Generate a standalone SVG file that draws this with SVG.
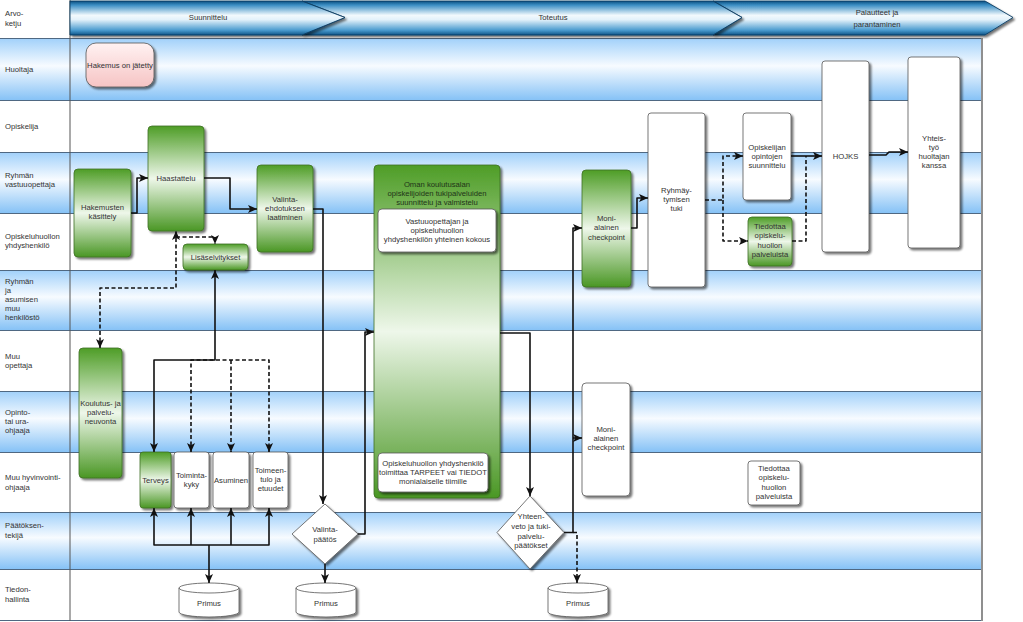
<svg xmlns="http://www.w3.org/2000/svg" width="1023" height="622" viewBox="0 0 1023 622">
<defs>
<style>
.t{font-family:"Liberation Sans",Arial,sans-serif;font-size:7.7px;fill:#333;text-anchor:middle}
.l{font-family:"Liberation Sans",Arial,sans-serif;font-size:7.7px;fill:#333}
.ttl{fill:#1f3418}
.lb{fill:url(#lane)}
.lw{fill:#ffffff}
.ln{stroke:#4f6882;stroke-width:1;fill:none}
.g{fill:url(#green);stroke:#3d6f25;stroke-width:0.8;filter:url(#sh)}
.w{fill:#ffffff;stroke:#555;stroke-width:0.8;filter:url(#sh)}
.p{fill:url(#pink);stroke:#555;stroke-width:0.8;filter:url(#sh)}
.c{fill:none;stroke:#111;stroke-width:1.6;stroke-linejoin:round}
.d{stroke-dasharray:4,2.5}
.a{marker-end:url(#arr)}
.b{marker-start:url(#arr);marker-end:url(#arr)}
.hd{fill:url(#hdr);stroke:#0c3c62;stroke-width:0.9;filter:url(#sh)}
</style>
<linearGradient id="lane" x1="0" y1="0" x2="0" y2="1">
<stop offset="0" stop-color="#a0d0fa"/>
<stop offset="0.45" stop-color="#f7fbff"/>
<stop offset="1" stop-color="#86c2f6"/>
</linearGradient>
<linearGradient id="hdr" x1="0" y1="0" x2="0" y2="1">
<stop offset="0" stop-color="#0b4f80"/>
<stop offset="0.12" stop-color="#3b8ec4"/>
<stop offset="0.42" stop-color="#f2f9fd"/>
<stop offset="0.55" stop-color="#e3f1fa"/>
<stop offset="0.86" stop-color="#4a9bcf"/>
<stop offset="1" stop-color="#0d5688"/>
</linearGradient>
<linearGradient id="green" x1="0" y1="0" x2="0" y2="1">
<stop offset="0" stop-color="#4e9d26"/>
<stop offset="0.5" stop-color="#eef7ea"/>
<stop offset="1" stop-color="#4a9724"/>
</linearGradient>
<linearGradient id="pink" x1="0" y1="0" x2="0" y2="1">
<stop offset="0" stop-color="#fff2f2"/>
<stop offset="1" stop-color="#f6c4c4"/>
</linearGradient>
<filter id="sh" x="-20%" y="-20%" width="150%" height="150%">
<feGaussianBlur in="SourceAlpha" stdDeviation="1"/>
<feOffset dx="2" dy="2"/>
<feComponentTransfer><feFuncA type="linear" slope="0.55"/></feComponentTransfer>
<feMerge><feMergeNode/><feMergeNode in="SourceGraphic"/></feMerge>
</filter>
<marker id="arr" markerUnits="userSpaceOnUse" markerWidth="9" markerHeight="8" viewBox="0 0 9 8" refX="9" refY="4" orient="auto-start-reverse">
<path d="M0,0 L9,4 L0,8 L2.2,4 Z" fill="#111"/>
</marker>
</defs>

<rect x="0" y="0" width="1023" height="622" fill="#ffffff"/>

<g id="lanes">
<rect class="lb" x="0" y="38" width="982" height="62"/>
<rect class="lw" x="0" y="100" width="982" height="52"/>
<rect class="lb" x="0" y="152" width="982" height="61"/>
<rect class="lw" x="0" y="213" width="982" height="57"/>
<rect class="lb" x="0" y="270" width="982" height="60"/>
<rect class="lw" x="0" y="330" width="982" height="61"/>
<rect class="lb" x="0" y="391" width="982" height="61"/>
<rect class="lw" x="0" y="452" width="982" height="60"/>
<rect class="lb" x="0" y="512" width="982" height="57"/>
<rect class="lw" x="0" y="569" width="982" height="51"/>
<path class="ln" d="M0,38.5H982M0,100.5H982M0,152.5H982M0,213.5H982M0,270.5H982M0,330.5H982M0,391.5H982M0,452.5H982M0,512.5H982M0,569.5H982M0,620.5H982"/>
<path d="M70,0V621" stroke="#555" stroke-width="1"/>
<path d="M982,38V621" stroke="#8f8f8f" stroke-width="2"/>
<text class="l" x="5" y="16">Arvo-</text><text class="l" x="5" y="26">ketju</text>
<text class="l" x="5" y="72">Huoltaja</text>
<text class="l" x="5" y="129">Opiskelija</text>
<text class="l" x="5" y="178">Ryhmän</text><text class="l" x="5" y="187">vastuuopettaja</text>
<text class="l" x="5" y="239">Opiskeluhuollon</text><text class="l" x="5" y="248">yhdyshenkilö</text>
<text class="l" x="5" y="284">Ryhmän</text><text class="l" x="5" y="293">ja</text><text class="l" x="5" y="302">asumisen</text><text class="l" x="5" y="311">muu</text><text class="l" x="5" y="320">henkilöstö</text>
<text class="l" x="5" y="359">Muu</text><text class="l" x="5" y="368">opettaja</text>
<text class="l" x="5" y="415">Opinto-</text><text class="l" x="5" y="424">tai ura-</text><text class="l" x="5" y="433">ohjaaja</text>
<text class="l" x="5" y="480">Muu hyvinvointi-</text><text class="l" x="5" y="490">ohjaaja</text>
<text class="l" x="5" y="528">Päätöksen-</text><text class="l" x="5" y="538">tekijä</text>
<text class="l" x="5" y="592">Tiedon-</text><text class="l" x="5" y="602">hallinta</text>
</g>

<g id="phase3">
<path class="hd" d="M713,1H985L1013,17.5L985,35H713L742,17.5Z"/>
<text class="t" x="877" y="15">Palautteet ja</text>
<text class="t" x="877" y="27">parantaminen</text>
</g>
<g id="phase2">
<path class="hd" d="M302,1H713L742,17.5L713,35H302L345,17.5Z"/>
<text class="t" x="553" y="20">Toteutus</text>
</g>
<g id="phase1">
<path class="hd" d="M70,1H302L345,17.5L302,35H70Z"/>
<text class="t" x="208" y="20">Suunnittelu</text>
</g>

<g id="n-hakemus-jatetty">
<rect class="p" x="86" y="43" width="68" height="44" rx="10"/>
<text class="t" x="120" y="68">Hakemus on jätetty</text>
</g>
<g id="n-hakemusten-kasittely">
<rect class="g" x="74" y="169" width="57" height="88" rx="4"/>
<text class="t" x="102.5" y="210">Hakemusten</text><text class="t" x="102.5" y="219">käsittely</text>
</g>
<g id="n-haastattelu">
<rect class="g" x="148" y="126" width="56" height="105" rx="4"/>
<text class="t" x="176" y="181">Haastattelu</text>
</g>
<g id="n-lisaselvitykset">
<rect class="g" x="183" y="244" width="65" height="26" rx="4"/>
<text class="t" x="215.5" y="260">Lisäselvitykset</text>
</g>
<g id="n-valintaehdotus">
<rect class="g" x="257" y="165" width="56" height="87" rx="4"/>
<text class="t" x="285" y="202">Valinta-</text><text class="t" x="285" y="211">ehdotuksen</text><text class="t" x="285" y="220">laatiminen</text>
</g>
<g id="n-koulutus">
<rect class="g" x="79" y="348" width="43" height="130" rx="4"/>
<text class="t" x="100.5" y="406">Koulutus- ja</text><text class="t" x="100.5" y="415">palvelu-</text><text class="t" x="100.5" y="424">neuvonta</text>
</g>
<g id="n-terveys">
<rect class="g" x="140" y="452" width="31" height="56" rx="3"/>
<text class="t" x="155.5" y="483">Terveys</text>
</g>
<g id="n-toimintakyky">
<rect class="w" x="174" y="452" width="35" height="56" rx="3"/>
<text class="t" x="191.5" y="478">Toiminta-</text><text class="t" x="191.5" y="487">kyky</text>
</g>
<g id="n-asuminen">
<rect class="w" x="213" y="452" width="36" height="56" rx="3"/>
<text class="t" x="231" y="483">Asuminen</text>
</g>
<g id="n-toimeentulo">
<rect class="w" x="253" y="452" width="35" height="56" rx="3"/>
<text class="t" x="270.5" y="473">Toimeen-</text><text class="t" x="270.5" y="482">tulo ja</text><text class="t" x="270.5" y="491">etuudet</text>
</g>
<g id="n-valintapaatos">
<path class="w" d="M325,504L358,534L325,564L292,534Z"/>
<text class="t" x="325" y="532">Valinta-</text><text class="t" x="325" y="542">päätös</text>
</g>
<g id="n-primus1">
<path class="w" d="M179,588A30,5 0 0 1 239,588V612A30,5 0 0 1 179,612Z"/>
<path d="M179,588A30,5 0 0 0 239,588" fill="none" stroke="#555" stroke-width="0.8"/>
<text class="t" x="209" y="606">Primus</text>
</g>
<g id="n-primus2">
<path class="w" d="M296,588A30,5 0 0 1 356,588V612A30,5 0 0 1 296,612Z"/>
<path d="M296,588A30,5 0 0 0 356,588" fill="none" stroke="#555" stroke-width="0.8"/>
<text class="t" x="326" y="606">Primus</text>
</g>
<g id="n-primus3">
<path class="w" d="M548,588A30,5 0 0 1 608,588V612A30,5 0 0 1 548,612Z"/>
<path d="M548,588A30,5 0 0 0 608,588" fill="none" stroke="#555" stroke-width="0.8"/>
<text class="t" x="578" y="606">Primus</text>
</g>
<g id="n-oman-koulutusalan">
<rect class="g" x="374" y="165" width="126" height="333" rx="4"/>
<text class="t ttl" x="437" y="187">Oman koulutusalan</text>
<text class="t ttl" x="437" y="196">opiskelijoiden tukipalveluiden</text>
<text class="t ttl" x="437" y="205">suunnittelu ja valmistelu</text>
</g>
<g id="n-yhteinen-kokous">
<rect class="w" x="378" y="209" width="118" height="43" rx="4"/>
<text class="t" x="437" y="224">Vastuuopettajan ja</text>
<text class="t" x="437" y="233">opiskeluhuollon</text>
<text class="t" x="437" y="242">yhdyshenkilön yhteinen kokous</text>
</g>
<g id="n-toimittaa">
<rect class="w" x="378" y="453" width="110" height="39" rx="4"/>
<text class="t" x="433" y="466">Opiskeluhuollon yhdyshenkilö</text>
<text class="t" x="433" y="475">toimittaa TARPEET vai TIEDOT</text>
<text class="t" x="433" y="484">monialaiselle tiimille</text>
</g>
<g id="n-yhteenveto">
<path class="w" d="M530,496L564,532.5L530,569L497,532.5Z"/>
<text class="t" x="531" y="519">Yhteen-</text><text class="t" x="531" y="529">veto ja tuki-</text><text class="t" x="531" y="539">palvelu-</text><text class="t" x="531" y="548">päätökset</text>
</g>
<g id="n-checkpoint1">
<rect class="g" x="582" y="170" width="49" height="117" rx="4"/>
<text class="t" x="606.5" y="221">Moni-</text><text class="t" x="606.5" y="230">alainen</text><text class="t" x="606.5" y="240">checkpoint</text>
</g>
<g id="n-ryhmaytyminen">
<rect class="w" x="648" y="113" width="57" height="174" rx="3"/>
<text class="t" x="676.5" y="193">Ryhmäy-</text><text class="t" x="676.5" y="202">tymisen</text><text class="t" x="676.5" y="211">tuki</text>
</g>
<g id="n-checkpoint2">
<rect class="w" x="582" y="383" width="48" height="113" rx="4"/>
<text class="t" x="606" y="432">Moni-</text><text class="t" x="606" y="441">alainen</text><text class="t" x="606" y="450">checkpoint</text>
</g>
<g id="n-opintojen-suunnittelu">
<rect class="w" x="743" y="113" width="48" height="87" rx="3"/>
<text class="t" x="767" y="150">Opiskelijan</text><text class="t" x="767" y="159">opintojen</text><text class="t" x="767" y="168">suunnittelu</text>
</g>
<g id="n-tiedottaa1">
<rect class="g" x="748" y="217" width="44" height="49" rx="4"/>
<text class="t" x="770" y="229">Tiedottaa</text><text class="t" x="770" y="238">opiskelu-</text><text class="t" x="770" y="248">huollon</text><text class="t" x="770" y="257">palveluista</text>
</g>
<g id="n-hojks">
<rect class="w" x="822" y="61" width="47" height="191" rx="3"/>
<text class="t" x="845.5" y="159">HOJKS</text>
</g>
<g id="n-yhteistyo">
<rect class="w" x="908" y="57" width="52" height="191" rx="3"/>
<text class="t" x="934" y="141">Yhteis-</text><text class="t" x="934" y="150">työ</text><text class="t" x="934" y="159">huoltajan</text><text class="t" x="934" y="168">kanssa</text>
</g>
<g id="n-tiedottaa2">
<rect class="w" x="748" y="461" width="52" height="44" rx="3"/>
<text class="t" x="774" y="471">Tiedottaa</text><text class="t" x="774" y="480">opiskelu-</text><text class="t" x="774" y="490">huollon</text><text class="t" x="774" y="499">palveluista</text>
</g>

<g id="connectors">
<path class="c a" d="M131,213H137V178H148"/>
<path class="c a" d="M204,178H230V209H257"/>
<path class="c a" d="M313,209H323V504"/>
<path class="c a" d="M325,564V583"/>
<path class="c a" d="M358,534H365V332H374"/>
<path class="c a" d="M500,333H530V496"/>
<path class="c a" d="M564,532.5H573V228H582"/>
<path class="c a" d="M573,438H582"/>
<path class="c d a" d="M573,532.5H577V583"/>
<path class="c a" d="M631,228H637V198H648"/>
<path class="c d a" d="M705,200H723V156H743"/>
<path class="c d a" d="M723,200V241H748"/>
<path class="c a" d="M791,156H822"/>
<path class="c d" d="M792,241H806V156"/>
<path class="c a" d="M869,155H886L889,152H908"/>
<path class="c d b" d="M100,348V288H176V231"/>
<path class="c d a" d="M176,237H215V244"/>
<path class="c d b" d="M191,452V360H269V452"/>
<path class="c d a" d="M231,360V452"/>
<path class="c b" d="M154,452V360H215V270"/>
<path class="c b" d="M154,508V545H269V508"/>
<path class="c a" d="M191,545V508"/>
<path class="c a" d="M231,545V508"/>
<path class="c a" d="M209,545V583"/>
</g>
</svg>
